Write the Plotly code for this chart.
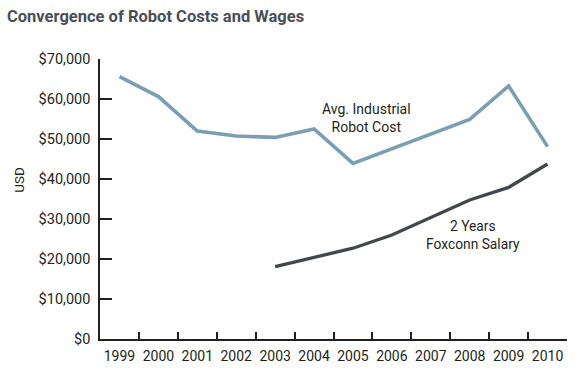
import plotly.graph_objects as go

years = ["1999", "2000", "2001", "2002", "2003", "2004", "2005", "2006", "2007", "2008", "2009", "2010"]
robot_cost = [65600, 60600, 52000, 50750, 50400, 52500, 43900, 47600, 51300, 54900, 63250, 48100]
foxconn_years = ["2003", "2004", "2005", "2006", "2007", "2008", "2009", "2010"]
foxconn_salary = [18100, 20300, 22700, 26000, 30300, 34750, 37900, 43750]
y_ticks = [0, 10000, 20000, 30000, 40000, 50000, 60000, 70000]
y_tick_labels = ["$0", "$10,000", "$20,000", "$30,000", "$40,000", "$50,000", "$60,000", "$70,000"]

FONT = "Roboto, sans-serif"

fig = go.Figure()
fig.add_trace(go.Scatter(x=years, y=robot_cost, mode="lines",
                         line=dict(color="#7a9fb2", width=3.6), showlegend=False))
fig.add_trace(go.Scatter(x=foxconn_years, y=foxconn_salary, mode="lines",
                         line=dict(color="#43474d", width=3.3), showlegend=False))

fig.update_layout(
    width=587, height=381,
    margin=dict(l=100, r=19.5, t=59, b=42),
    plot_bgcolor="white", paper_bgcolor="white",
    font=dict(family=FONT, color="#231f20", size=13),
    title=dict(text="<b>Convergence of Robot Costs and Wages</b>",
               x=7/587, xanchor="left", y=1-16/381, yanchor="middle",
               font=dict(family=FONT, size=16.5, color="#4a4f57")),
    xaxis=dict(type="category", categoryorder="array", categoryarray=years,
               range=[-0.5, 11.5], showline=True, linecolor="#231f20", linewidth=1.5,
               ticks="inside", tickson="boundaries", ticklen=7, tickcolor="#231f20",
               tickwidth=1.5, showgrid=False, zeroline=False, tickangle=0,
               ticklabelstandoff=3,
               automargin=False, tickfont=dict(size=14), fixedrange=True),
    yaxis=dict(range=[0, 70000], tickvals=y_ticks, ticktext=y_tick_labels,
               showline=True, linecolor="#231f20", linewidth=1.5,
               ticks="inside", ticklen=12, tickcolor="#231f20", tickwidth=1.5,
               showgrid=False, zeroline=False, tickfont=dict(size=14.5),
               ticklabelstandoff=5, automargin=False, fixedrange=True),
    annotations=[
        dict(text="Avg. Industrial<br>Robot Cost", xref="paper", yref="paper",
             x=(367-99.5)/468, y=(339-117.5)/280, xanchor="center", yanchor="middle",
             showarrow=False, font=dict(size=14, color="#231f20"), align="center"),
        dict(text="2 Years<br>Foxconn Salary", xref="paper", yref="paper",
             x=(473-99.5)/468, y=(339-235)/280, xanchor="center", yanchor="middle",
             showarrow=False, font=dict(size=13.8, color="#231f20"), align="center"),
        dict(text="USD", xref="paper", yref="paper",
             x=(18-99.5)/468, y=(339-180)/280, xanchor="center", yanchor="middle",
             showarrow=False, textangle=-90, font=dict(size=13.5, color="#231f20")),
    ],
)

fig.write_html("out.html", config={"displayModeBar": False},
               post_script="document.body.style.margin='0';")
